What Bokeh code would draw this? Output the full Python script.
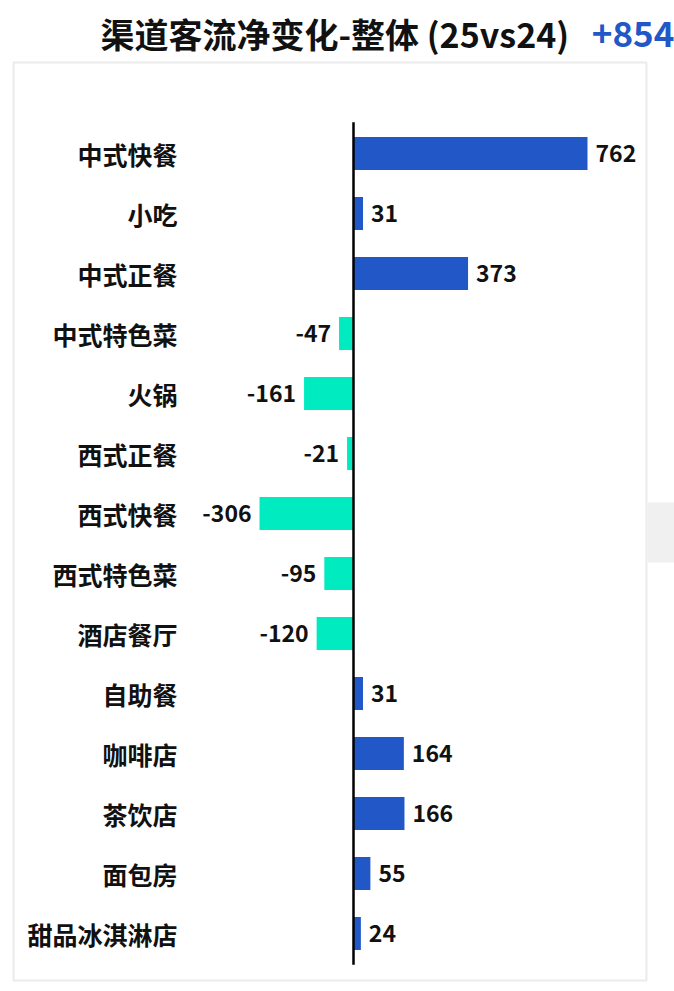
from bokeh.plotting import figure
from bokeh.models import ColumnDataSource, Range1d
from bokeh.core.properties import value
from bokeh.embed import file_html
from bokeh.resources import INLINE

categories = ["中式快餐", "小吃", "中式正餐", "中式特色菜", "火锅", "西式正餐", "西式快餐",
              "西式特色菜", "酒店餐厅", "自助餐", "咖啡店", "茶饮店", "面包房", "甜品冰淇淋店"]
values = [762, 31, 373, -47, -161, -21, -306, -95, -120, 31, 164, 166, 55, 24]
title_text = "渠道客流净变化-整体 (25vs24)"
total_text = "+854"

POS = "#2257C7"
NEG = "#00EBC0"
FONT = "Noto Sans CJK SC"

n = len(categories)
ys = [n - 1 - i for i in range(n)]
src = ColumnDataSource(dict(
    cat=categories, val=values, y=ys,
    color=[POS if v >= 0 else NEG for v in values],
    lbl=[str(v) for v in values],
    align=["left" if v >= 0 else "right" for v in values],
    xoff=[8 if v >= 0 else -8 for v in values],
))

W, H = 674, 990
p = figure(width=W, height=H, output_backend="svg", toolbar_location=None,
           x_range=Range1d(-1149.5, 1045.3), y_range=Range1d(-0.95, 15.55),
           min_border=0)
p.xaxis.visible = False
p.yaxis.visible = False
p.xgrid.visible = False
p.ygrid.visible = False
p.outline_line_color = None
p.background_fill_color = "white"
p.border_fill_color = "white"

# panel frame and stray grey patch at the right edge
p.quad(left=-1107, right=954, bottom=-0.783, top=14.517,
       fill_color=None, line_color="#EBEBEB", line_width=2)
p.quad(left=957, right=1100, bottom=6.183, top=7.183,
       fill_color="#F0F0F0", line_color=None)

p.hbar(y="y", left=0, right="val", height=0.55, fill_color="color", line_color=None, source=src)
p.segment(x0=0, y0=-0.52, x1=0, y1=n - 0.48, line_color="black", line_width=2.5)

p.text(x="val", y="y", text="lbl", x_offset="xoff", text_align="align", text_baseline="middle",
       text_font=value(FONT), text_font_style="bold", text_font_size="23px",
       text_color="#111111", source=src)

p.text(x=-573, y="y", text="cat", text_align="right", text_baseline="middle",
       text_font=value(FONT), text_font_style="bold", text_font_size="25px",
       text_color="#111111", source=src)

p.text(x=[-824], y=[15.0], text=[title_text], text_align="left", text_baseline="middle",
       text_font=value(FONT), text_font_style="bold", text_font_size="34px",
       text_color="#111111")
p.text(x=[1045], y=[15.0], text=[total_text], text_align="right", text_baseline="middle",
       text_font=value(FONT), text_font_style="bold", text_font_size="35px",
       text_color=POS)

open("out.html", "w").write(file_html(p, INLINE))
